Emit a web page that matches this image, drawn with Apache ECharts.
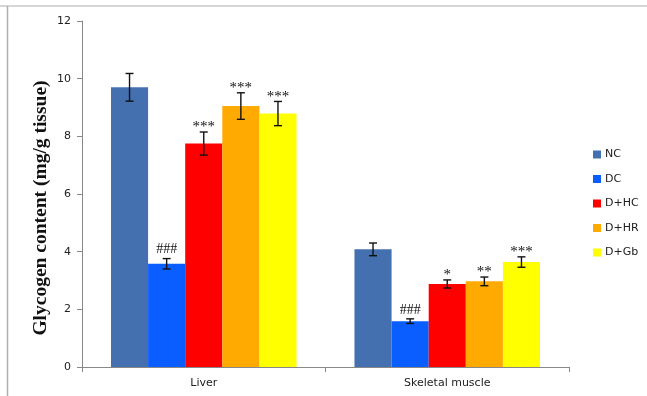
<!DOCTYPE html>
<html>
<head>
<meta charset="utf-8">
<script src="https://cdn.jsdelivr.net/npm/echarts@6/dist/echarts.min.js"></script>
<style>
  html, body { margin: 0; padding: 0; background: #fff; }
  #chart { width: 647px; height: 396px; }
</style>
</head>
<body>
<div id="chart"></div>
<script>
// Tissue groups and treatment groups
const categories = ['Liver', 'Skeletal muscle'];
const groups = ['NC', 'DC', 'D+HC', 'D+HR', 'D+Gb'];
const groupColors = ['#4470B0', '#0A5EFF', '#FF0000', '#FFAA00', '#FFFF00'];

// Glycogen content (mg/g tissue), mean per tissue
const ncValues   = [9.70, 4.08];
const dcValues   = [3.58, 1.59];
const dhcValues  = [7.75, 2.88];
const dhrValues  = [9.05, 2.97];
const dgbValues  = [8.79, 3.64];

// Error (± half-range) per tissue
const ncErr  = [0.48, 0.22];
const dcErr  = [0.18, 0.08];
const dhcErr = [0.40, 0.14];
const dhrErr = [0.46, 0.15];
const dgbErr = [0.42, 0.18];

// Significance marks per tissue
const ncSig  = ['', ''];
const dcSig  = ['###', '###'];
const dhcSig = ['***', '*'];
const dhrSig = ['***', '**'];
const dgbSig = ['***', '***'];

const yTicks = [0, 2, 4, 6, 8, 10, 12];

const allValues = [ncValues, dcValues, dhcValues, dhrValues, dgbValues];
const allErr = [ncErr, dcErr, dhcErr, dhrErr, dgbErr];
const allSig = [ncSig, dcSig, dhcSig, dhrSig, dgbSig];

const categoryGap = 0.238;
const nGroups = groups.length;
const labelFont = '"DejaVu Sans", Verdana, sans-serif';

const series = [];
groups.forEach((g, i) => {
  series.push({
    name: g,
    type: 'bar',
    data: allValues[i],
    barGap: '0%',
    barCategoryGap: (categoryGap * 100) + '%',
    itemStyle: { color: groupColors[i] },
    emphasis: { disabled: true },
    z: 2
  });
});

// Error bars and significance marks, positioned over each bar
groups.forEach((g, i) => {
  series.push({
    type: 'custom',
    name: g + ' err',
    z: 5,
    silent: true,
    data: allValues[i].map((v, c) => [c, v, allErr[i][c]]),
    encode: { x: 0, y: 1 },
    renderItem: function (params, api) {
      const c = api.value(0);
      const v = api.value(1);
      const e = api.value(2);
      const sig = allSig[i][c];
      const band = api.size([1, 0])[0];
      const barW = band * (1 - categoryGap) / nGroups;
      const center = api.coord([c, v]);
      const x = center[0] + (i - (nGroups - 1) / 2) * barW;
      const yHi = api.coord([c, v + e])[1];
      const yLo = api.coord([c, v - e])[1];
      const cap = 4;
      const style = { stroke: '#111', lineWidth: 1.4 };
      const children = [
        { type: 'line', shape: { x1: x, y1: yHi, x2: x, y2: yLo }, style },
        { type: 'line', shape: { x1: x - cap, y1: yHi, x2: x + cap, y2: yHi }, style },
        { type: 'line', shape: { x1: x - cap, y1: yLo, x2: x + cap, y2: yLo }, style }
      ];
      if (sig) {
        const isHash = sig.indexOf('#') >= 0;
        children.push({
          type: 'text',
          style: {
            x: x,
            y: isHash ? yHi - 2 : yHi + 3,
            text: sig,
            align: 'center',
            verticalAlign: 'bottom',
            fill: '#111',
            font: isHash ? '14px "Liberation Serif", serif' : '15px "Liberation Serif", serif'
          }
        });
      }
      return { type: 'group', children };
    }
  });
});

const chart = echarts.init(document.getElementById('chart'), null, { renderer: 'canvas' });
chart.setOption({
  animation: false,
  backgroundColor: '#fff',
  grid: { left: 82, right: 78, top: 21, bottom: 29, containLabel: false },
  legend: {
    data: groups,
    orient: 'vertical',
    left: 588,
    top: 144,
    itemWidth: 8,
    itemHeight: 8,
    itemGap: 13.5,
    itemStyle: { borderWidth: 0 },
    icon: 'rect',
    textStyle: { fontFamily: labelFont, fontSize: 11, color: '#222', padding: [0, 0, 0, -1] },
    selectedMode: false
  },
  xAxis: {
    type: 'category',
    data: categories,
    axisLine: { lineStyle: { color: '#888', width: 1 } },
    axisTick: { show: true, length: 5, lineStyle: { color: '#888' } },
    axisLabel: { fontFamily: labelFont, fontSize: 11, color: '#222', margin: 11 }
  },
  yAxis: {
    type: 'value',
    min: yTicks[0],
    max: yTicks[yTicks.length - 1],
    interval: 2,
    splitLine: { show: false },
    axisLine: { show: true, lineStyle: { color: '#888', width: 1 } },
    axisTick: { show: true, length: 5, lineStyle: { color: '#888' } },
    axisLabel: { fontFamily: labelFont, fontSize: 11, color: '#222', margin: 11 }
  },
  graphic: [
    { type: 'line', shape: { x1: 0, y1: 6, x2: 647, y2: 6 }, style: { stroke: '#c8c8c8', lineWidth: 1.5 } },
    { type: 'line', shape: { x1: 7.5, y1: 6, x2: 7.5, y2: 396 }, style: { stroke: '#b0b0b0', lineWidth: 1.5 } },
    {
      type: 'text',
      x: 41,
      y: 208,
      rotation: Math.PI / 2,
      style: {
        text: 'Glycogen content (mg/g tissue)',
        font: 'bold 19.5px "Liberation Serif", "Times New Roman", serif',
        fill: '#111',
        align: 'center',
        verticalAlign: 'middle'
      }
    }
  ],
  series
});
</script>
</body>
</html>
